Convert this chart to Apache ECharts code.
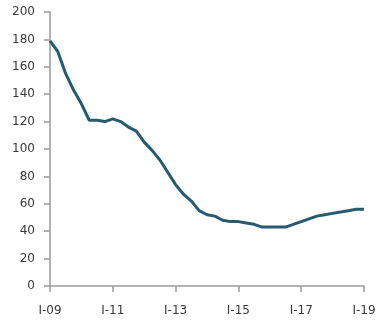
<!DOCTYPE html>
<html>
<head>
<meta charset="utf-8">
<script src="https://cdn.jsdelivr.net/npm/echarts@6/dist/echarts.min.js"></script>
<style>
  html, body { margin: 0; padding: 0; background: #fff; }
  #chart { width: 389px; height: 328px; }
</style>
</head>
<body>
<div id="chart"></div>
<script>
// quarterly data, I-09 .. I-19
const years = ["09","10","11","12","13","14","15","16","17","18","19"];
const quarters = ["I","II","III","IV"];
const categories = [];
years.forEach(function (y, i) {
  quarters.forEach(function (q, j) {
    if (i < years.length - 1 || j === 0) categories.push(q + "-" + y);
  });
});

const values = [
  179, 171, 155, 143, 133, 121, 121, 120, 122, 120,
  116, 113, 105, 99, 92, 83, 74, 67, 62, 55,
  52, 51, 48, 47, 47, 46, 45, 43, 43, 43,
  43, 45, 47, 49, 51, 52, 53, 54, 55, 56, 56
];

const yTicks = [0, 200, 20]; // min, max, step

let chart = echarts.init(document.getElementById("chart"));
const axisGrey = "#9a9a9a";
const labelFont = { fontFamily: "DejaVu Sans", fontSize: 12, color: "#3a3a3a" };

let option = {
  animation: false,
  grid: { left: 50, right: 25, top: 12, bottom: 42 },
  xAxis: {
    type: "category",
    data: categories,
    boundaryGap: false,
    axisLine: { lineStyle: { color: axisGrey, width: 1.5 } },
    axisTick: { show: true, interval: 7, length: 6, lineStyle: { color: axisGrey, width: 1.5 } },
    axisLabel: Object.assign({ interval: 7, margin: 19 }, labelFont),
    splitLine: { show: false }
  },
  yAxis: {
    type: "value",
    min: yTicks[0],
    max: yTicks[1],
    interval: yTicks[2],
    axisLine: { show: true, lineStyle: { color: axisGrey, width: 1.5 } },
    axisTick: { show: true, length: 6, lineStyle: { color: axisGrey, width: 1.5 } },
    axisLabel: Object.assign({ margin: 15 }, labelFont),
    splitLine: { show: false }
  },
  series: [
    {
      type: "line",
      data: values,
      symbol: "none",
      lineStyle: { color: "#255a6f", width: 3 }
    }
  ]
};
chart.setOption(option);
</script>
</body>
</html>
